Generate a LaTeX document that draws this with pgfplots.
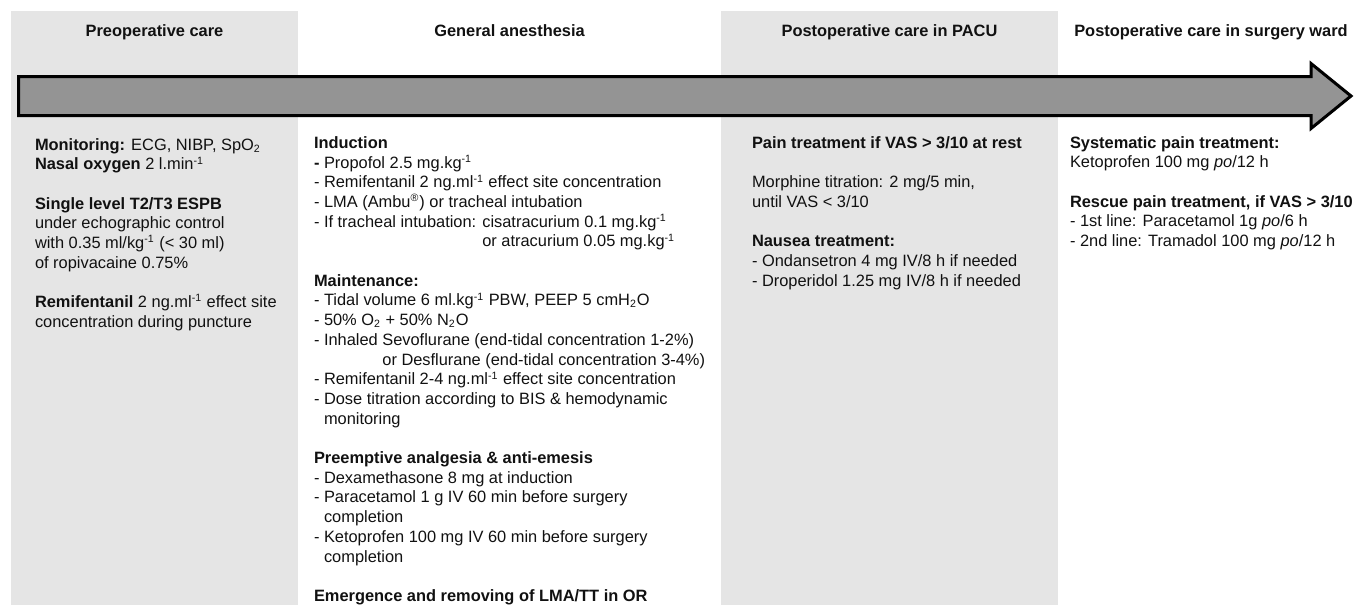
\documentclass[border=0pt]{standalone}
\usepackage{fontspec}
\setmainfont{Liberation Sans}
\usepackage{pgfplots}
\pgfplotsset{compat=1.18}
\definecolor{bg}{RGB}{229,229,229}
\definecolor{arr}{RGB}{148,148,148}
\definecolor{txt}{RGB}{17,17,17}
\newcommand{\bodyfont}{\fontsize{8.2pt}{9.85pt}\selectfont}
\newcommand{\su}[1]{\textsuperscript{\fontsize{5.3pt}{6pt}\selectfont #1}}
\newcommand{\sub}[1]{\textsubscript{\fontsize{5.3pt}{6pt}\selectfont #1}}
\newcommand{\gap}{\\[9.85pt]}
\tikzset{txtnode/.style={inner sep=0pt, outer sep=0pt, text=txt}}
\begin{document}
\begin{tikzpicture}
\begin{axis}[
  name=ax,
  width=684pt, height=302.5pt, scale only axis,
  xmin=0, xmax=1368, ymin=0, ymax=605,
  y dir=reverse,
  hide axis, clip=false,
]
% column backgrounds
\addplot[fill=bg, draw=none] coordinates {(11,11) (298,11) (298,605) (11,605)} -- cycle;
\addplot[fill=bg, draw=none] coordinates {(721,11) (1058,11) (1058,605) (721,605)} -- cycle;
% arrow
\addplot[fill=arr, draw=black, line width=1.5pt, line join=miter] coordinates {
  (18.5,76.5) (1311,76.5) (1311,63.5) (1351,96) (1311,128.5) (1311,115.5) (18.5,115.5)} -- cycle;
% headers
\node[txtnode, anchor=base, font=\bodyfont\bfseries] at (axis cs:154.5,36) {Preoperative care};
\node[txtnode, anchor=base, font=\bodyfont\bfseries] at (axis cs:509.5,36) {General anesthesia};
\node[txtnode, anchor=base, font=\bodyfont\bfseries] at (axis cs:889.5,36) {Postoperative care in PACU};
\node[txtnode, anchor=base, font=\bodyfont\bfseries] at (axis cs:1211,36) {Postoperative care in surgery ward};
% column 1 (anchor = baseline of last line)
\node[txtnode, anchor=base west, align=left, font=\bodyfont] at (axis cs:35,327.3) {%
\textbf{Monitoring:} ECG, NIBP, SpO\sub{2}\\
\textbf{Nasal oxygen} 2 l.min\su{-1}\gap
\textbf{Single level T2/T3 ESPB}\\
under echographic control\\
with 0.35 ml/kg\su{-1} (< 30 ml)\\
of ropivacaine 0.75\%\gap
\textbf{Remifentanil} 2 ng.ml\su{-1} effect site\\
concentration during puncture};
% column 2
\node[txtnode, anchor=base west, align=left, font=\bodyfont] at (axis cs:314,601.4) {%
\textbf{Induction}\\
\textbf{-} Propofol 2.5 mg.kg\su{-1}\\
- Remifentanil 2 ng.ml\su{-1} effect site concentration\\
- LMA (Ambu\su{®}) or tracheal intubation\\
- If tracheal intubation: cisatracurium 0.1 mg.kg\su{-1}\\
\phantom{- If tracheal intubation: }or atracurium 0.05 mg.kg\su{-1}\gap
\textbf{Maintenance:}\\
- Tidal volume 6 ml.kg\su{-1} PBW, PEEP 5 cmH\sub{2}O\\
- 50\% O\sub{2} + 50\% N\sub{2}O\\
- Inhaled Sevoflurane (end-tidal concentration 1-2\%)\\
\phantom{- Inhaled }or Desflurane (end-tidal concentration 3-4\%)\\
- Remifentanil 2-4 ng.ml\su{-1} effect site concentration\\
- Dose titration according to BIS \& hemodynamic\\
\phantom{- }monitoring\gap
\textbf{Preemptive analgesia \& anti-emesis}\\
- Dexamethasone 8 mg at induction\\
- Paracetamol 1 g IV 60 min before surgery\\
\phantom{- }completion\\
- Ketoprofen 100 mg IV 60 min before surgery\\
\phantom{- }completion\gap
\textbf{Emergence and removing of LMA/TT in OR}};
% column 3
\node[txtnode, anchor=base west, align=left, font=\bodyfont] at (axis cs:752,286.2) {%
\textbf{Pain treatment if VAS > 3/10 at rest}\gap
Morphine titration: 2 mg/5 min,\\
until VAS < 3/10\gap
\textbf{Nausea treatment:}\\
- Ondansetron 4 mg IV/8 h if needed\\
- Droperidol 1.25 mg IV/8 h if needed};
% column 4
\node[txtnode, anchor=base west, align=left, font=\bodyfont] at (axis cs:1070,246.5) {%
\textbf{Systematic pain treatment:}\\
Ketoprofen 100 mg \textit{po}/12 h\gap
\textbf{Rescue pain treatment, if VAS > 3/10}\\
- 1st line: Paracetamol 1g \textit{po}/6 h\\
- 2nd line: Tramadol 100 mg \textit{po}/12 h};
\end{axis}
\pgfresetboundingbox
\path[use as bounding box] (ax.south west) rectangle (ax.north east);
\end{tikzpicture}
\end{document}
